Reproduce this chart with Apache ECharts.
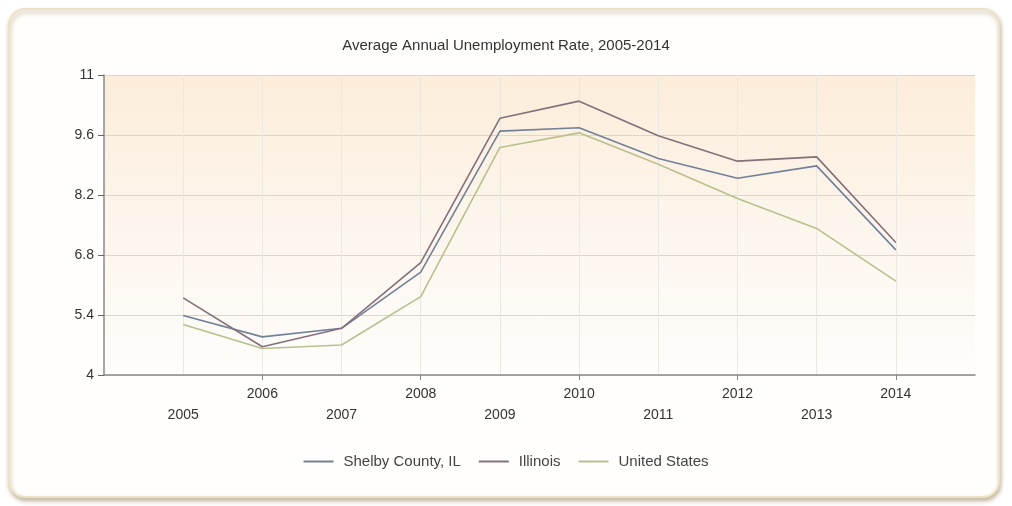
<!DOCTYPE html>
<html>
<head>
<meta charset="utf-8">
<script src="https://cdn.jsdelivr.net/npm/echarts@6/dist/echarts.min.js"></script>
<style>
html,body{margin:0;padding:0;background:#ffffff;}
#chart{width:1012px;height:506px;}
</style>
</head>
<body>
<div id="chart"></div>
<script>
var years = ['2005','2006','2007','2008','2009','2010','2011','2012','2013','2014'];
var shelby = [5.39, 4.89, 5.09, 6.4, 9.69, 9.77, 9.05, 8.59, 8.88, 6.92];
var illinois = [5.8, 4.66, 5.09, 6.62, 9.99, 10.39, 9.58, 8.99, 9.09, 7.09];
var unitedStates = [5.18, 4.62, 4.7, 5.83, 9.31, 9.65, 8.92, 8.12, 7.42, 6.19];
var yTicks = ['4', '5.4', '6.8', '8.2', '9.6', '11'];

var cats = [''].concat(years).concat(['']);
function pad(arr){ return [null].concat(arr).concat([null]); }

var chart = echarts.init(document.getElementById('chart'));
var font = 'Liberation Sans, Arial, sans-serif';
chart.setOption({
  animation: false,
  backgroundColor: '#ffffff',
  graphic: [{
    type: 'rect',
    z: -10,
    shape: {x: 9, y: 9, width: 990, height: 488, r: 16},
    style: {fill: '#fffefc', stroke: '#ece3c4', lineWidth: 2,
            shadowColor: 'rgba(120,90,40,0.4)', shadowBlur: 4, shadowOffsetY: 3, shadowOffsetX: 1}
  }],
  title: {
    text: 'Average Annual Unemployment Rate, 2005-2014',
    left: 'center', top: 33,
    textStyle: {fontFamily: font, fontSize: 15, fontWeight: 'normal', color: '#333'}
  },
  legend: {
    bottom: 32, left: 'center',
    icon: 'rect', itemWidth: 30, itemHeight: 2, itemGap: 18,
    textStyle: {fontFamily: font, fontSize: 15, color: '#444', padding: [0, 0, 0, 5]},
    data: ['Shelby County, IL', 'Illinois', 'United States']
  },
  grid: {
    left: 104, right: 37, top: 75, bottom: 131,
    show: true, borderWidth: 0,
    backgroundColor: new echarts.graphic.LinearGradient(0, 0, 0, 1, [
      {offset: 0, color: '#fcedda'},
      {offset: 0.55, color: '#fdf6ee'},
      {offset: 1, color: '#fefdfb'}
    ])
  },
  xAxis: {
    type: 'category',
    boundaryGap: false,
    data: cats,
    axisLine: {lineStyle: {color: '#8a8a8a', width: 1.5}},
    axisTick: {show: true, length: 5, lineStyle: {color: '#888'},
      interval: function(i, v){ return v !== '' && (+v) % 2 === 0; }},
    axisLabel: {
      fontFamily: font, fontSize: 14, color: '#333', margin: 9, lineHeight: 21,
      interval: function(i, v){ return v !== ''; },
      formatter: function(v){ return (+v) % 2 === 1 ? '\n' + v : v; }
    },
    splitLine: {show: true, lineStyle: {color: '#ebe8e2', width: 1},
      interval: function(i, v){ return v !== ''; }}
  },
  yAxis: [{
    type: 'value',
    min: 4, max: 11,
    axisLine: {show: false}, axisTick: {show: false}, axisLabel: {show: false},
    splitLine: {show: false}
  }, {
    type: 'category',
    position: 'left',
    boundaryGap: false,
    data: yTicks,
    axisLine: {show: true, lineStyle: {color: '#8a8a8a', width: 1.5}},
    axisTick: {show: true, length: 6, interval: 0, lineStyle: {color: '#666', width: 1}},
    axisLabel: {fontFamily: font, fontSize: 14, color: '#333', margin: 10, interval: 0},
    splitLine: {show: true, interval: 0, lineStyle: {color: '#d9d6d0', width: 1}}
  }],
  series: [
    {name: 'Shelby County, IL', type: 'line', yAxisIndex: 0, data: pad(shelby), showSymbol: false,
     lineStyle: {color: '#72809a', width: 1.6}, itemStyle: {color: '#72809a'}},
    {name: 'Illinois', type: 'line', yAxisIndex: 0, data: pad(illinois), showSymbol: false,
     lineStyle: {color: '#84707a', width: 1.6}, itemStyle: {color: '#84707a'}},
    {name: 'United States', type: 'line', yAxisIndex: 0, data: pad(unitedStates), showSymbol: false,
     lineStyle: {color: '#b9c08e', width: 1.6}, itemStyle: {color: '#b9c08e'}}
  ]
});
</script>
</body>
</html>
